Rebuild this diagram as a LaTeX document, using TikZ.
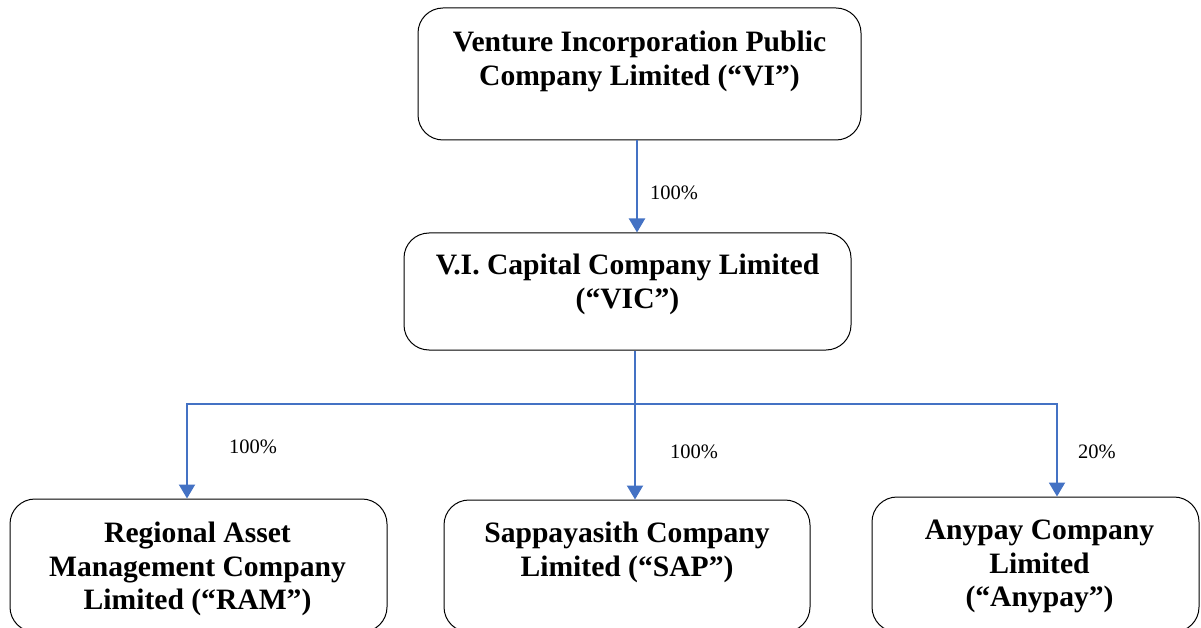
\documentclass[tikz,border=0pt]{standalone}
\usepackage{fontspec}
\setmainfont{Liberation Serif}
\usetikzlibrary{arrows.meta,calc}
\definecolor{linkblue}{RGB}{68,114,196}
\begin{document}
\begin{tikzpicture}[x=1pt,y=-1pt,
  box/.style={draw=black,line width=1pt,rounded corners=25pt,inner sep=0pt},
  boxtext/.style={font=\bfseries\fontsize{29.6}{33.5}\selectfont,align=center,inner sep=0pt,anchor=north},
  link/.style={draw=linkblue,line width=2pt},
  tip/.style={-{Triangle[width=16pt,length=14pt]}},
  pct/.style={font=\fontsize{20.5}{24}\selectfont,anchor=base west,inner sep=0pt}]
\useasboundingbox (0,0) rectangle (1201,628);
\clip (0,0) rectangle (1201,628);
\fill[white] (0,0) rectangle (1201,628);

% boxes
\node[box,minimum width=443pt,minimum height=132pt] (vi) at (639.5,74) {};
\node[box,minimum width=447pt,minimum height=117pt] (vic) at (627.5,291.5) {};
\node[box,minimum width=377pt,minimum height=133pt] (ram) at (198.5,565.5) {};
\node[box,minimum width=366pt,minimum height=132pt] (sap) at (627,566) {};
\node[box,minimum width=327pt,minimum height=135pt] (any) at (1035.5,564.5) {};

% texts
\node[boxtext] (vit) at ($(vi.north)+(0,20)$) {\rule{0pt}{24pt}Venture Incorporation Public\\Company Limited (“VI”)};
\node[boxtext] (vict) at ($(vic.north)+(0,18)$) {\rule{0pt}{24pt}V.I. Capital Company Limited\\(“VIC”)};
\node[boxtext] (ramt) at ($(ram.north)+(-1,20)$) {\rule{0pt}{24pt}Regional Asset\\Management Company\\Limited (“RAM”)};
\node[boxtext] (sapt) at ($(sap.north)+(0,19)$) {\rule{0pt}{24pt}Sappayasith Company\\Limited (“SAP”)};
\node[boxtext] (anyt) at ($(any.north)+(4,19)$) {\rule{0pt}{24pt}Anypay Company\\Limited\\(“Anypay”)};

% connectors
\coordinate (bus) at (635,404);
\coordinate (busL) at (187,404);
\coordinate (busR) at (1057,404);
\draw[link,tip] ([xshift=-2.5pt]vi.south) -- ([xshift=-2.5pt]vi.south |- vic.north);
\draw[link,tip] (vic.south -| bus) -- (bus |- sap.north);
\draw[link,tip] (bus) -- (busL) -- (busL |- ram.north);
\draw[link,tip] (bus) -- (busR) -- (busR |- any.north);

% percentages
\node[pct] (p1) at (650,200) {100\%};
\node[pct] (p2) at (229,453) {100\%};
\node[pct] (p3) at (670,458) {100\%};
\node[pct] (p4) at (1078,458) {20\%};
\end{tikzpicture}
\end{document}
